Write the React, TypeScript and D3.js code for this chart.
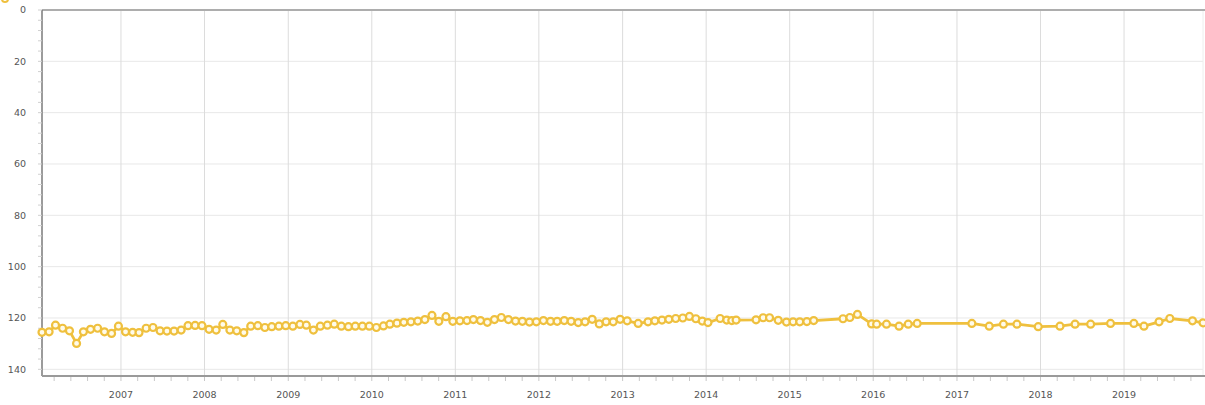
import React from "react";
import * as d3 from "d3";

// ---- DATA ----
const monthlyStart = "2006-01-21";
const monthlyValues: number[] = [
  125.6, 125.4, 122.8, 124.0, 125.0, 129.9, 125.4, 124.4, 124.0, 125.4, 126.0, 123.2,
  125.4, 125.6, 125.7, 124.0, 123.7, 125.0, 125.1, 125.1, 124.7, 123.0, 122.9, 123.0,
  124.4, 124.7, 122.5, 124.7, 125.0, 125.7, 123.2, 123.0, 123.7, 123.4, 123.2, 123.0,
  123.2, 122.5, 122.8, 124.7, 123.2, 122.8, 122.4, 123.2, 123.4, 123.2, 123.2, 123.2,
  123.7, 123.1, 122.4, 122.0, 121.7, 121.5, 121.2, 120.6, 119.0, 121.3, 119.5, 121.3,
  121.1, 121.0, 120.6, 121.0, 121.7, 120.6, 119.8, 120.6, 121.2, 121.3, 121.6, 121.5,
  121.0, 121.3, 121.3, 121.0, 121.3, 121.8, 121.5, 120.5, 122.3, 121.5, 121.5, 120.5,
  121.1,
];
const laterDates: string[] = [
  "2013-03-10", "2013-04-22", "2013-05-22", "2013-06-22", "2013-07-22", "2013-08-21",
  "2013-09-21", "2013-10-20", "2013-11-17", "2013-12-15", "2014-01-09", "2014-03-03",
  "2014-04-01", "2014-04-23", "2014-05-12", "2014-08-07", "2014-09-07", "2014-10-05",
  "2014-11-12", "2014-12-18", "2015-01-16", "2015-02-14", "2015-03-17", "2015-04-16",
  "2015-08-22", "2015-09-21", "2015-10-24", "2015-12-25", "2016-01-16", "2016-02-28",
  "2016-04-23", "2016-06-02", "2016-07-11", "2017-03-07", "2017-05-22", "2017-07-23",
  "2017-09-20", "2017-12-22", "2018-03-27", "2018-06-01", "2018-08-08", "2018-11-03",
  "2019-02-13", "2019-03-29", "2019-06-03", "2019-07-20", "2019-10-27", "2019-12-12",
];
const laterValues: number[] = [
  122.1, 121.5, 121.1, 120.8, 120.5, 120.2,
  120.0, 119.4, 120.3, 121.2, 121.8, 120.2,
  120.8, 121.0, 120.8, 120.7, 119.9, 119.9,
  120.9, 121.6, 121.5, 121.5, 121.4, 121.0,
  120.3, 119.8, 118.6, 122.3, 122.4, 122.4,
  123.2, 122.4, 122.1, 122.1, 123.2, 122.4,
  122.4, 123.4, 123.2, 122.4, 122.4, 122.1,
  122.1, 123.2, 121.5, 120.2, 121.1, 121.9,
];
const yTicks: number[] = [0, 20, 40, 60, 80, 100, 120, 140];
const xYears: number[] = [2007, 2008, 2009, 2010, 2011, 2012, 2013, 2014, 2015, 2016, 2017, 2018, 2019];

type Pt = { date: Date; value: number };

const parse = d3.timeParse("%Y-%m-%d");
const start = parse(monthlyStart) as Date;
const points: Pt[] = [
  ...monthlyValues.map((v, i) => ({ date: d3.timeMonth.offset(start, i), value: v })),
  ...laterDates.map((d, i) => ({ date: parse(d) as Date, value: laterValues[i] })),
];

const W = 1205;
const H = 405;
const left = 42;
const right = 1203;
const top = 10;
const bottom = 376;

const COLOR = "#EFC03E";
const FONT = "DejaVu Sans, Verdana, sans-serif";

export default function App() {
  const x = d3
    .scaleTime()
    .domain([start, parse("2019-12-12") as Date])
    .range([left, right]);
  const y = d3.scaleLinear().domain([0, 142.6]).range([top, bottom]);

  const line = d3
    .line<Pt>()
    .x((d) => x(d.date))
    .y((d) => y(d.value))
    .curve(d3.curveLinear);

  // minor x ticks every 0.2 year
  const xMinor: Date[] = [];
  for (let yr = 2006; yr <= 2020; yr++) {
    for (let k = 0; k < 5; k++) {
      const d = new Date(yr, 0, 1);
      const dd = new Date(d.getTime() + (k / 5) * 365.25 * 86400000);
      const px = x(dd);
      if (px >= left && px <= right) xMinor.push(dd);
    }
  }
  const yMinor = d3.range(0, 143, 4);

  return (
    <svg
      width={W}
      height={H}
      style={{ position: "absolute", left: 0, top: 0, background: "#fff" }}
    >
      {/* legend (mostly cut off at the top) */}
      <circle cx={5} cy={-1} r={3} fill="#fff" stroke={COLOR} strokeWidth={2} />

      {/* horizontal grid */}
      {yTicks.map((t) => (
        <line key={"hg" + t} x1={left} x2={right} y1={y(t)} y2={y(t)} stroke="#e8e8e8" strokeWidth={1} />
      ))}
      {/* vertical grid */}
      {xYears.map((yr) => {
        const px = x(new Date(yr, 0, 1));
        return <line key={"vg" + yr} x1={px} x2={px} y1={top} y2={bottom} stroke="#dcdcdc" strokeWidth={1} />;
      })}
      <line x1={right} x2={right} y1={top} y2={bottom} stroke="#eeeeee" strokeWidth={1} />

      {/* top border */}
      <line x1={left} x2={W} y1={top} y2={top} stroke="#adadad" strokeWidth={2} />
      {/* y axis */}
      <line x1={left} x2={left} y1={top} y2={bottom} stroke="#7a7a7a" strokeWidth={1.5} />
      {yMinor.map((t) => (
        <line key={"ym" + t} x1={left - 4} x2={left} y1={y(t)} y2={y(t)} stroke="#d0d0d0" strokeWidth={1} />
      ))}
      {yTicks.map((t) => (
        <text
          key={"yl" + t}
          x={26}
          y={y(t)}
          dy="0.35em"
          textAnchor="end"
          fontFamily={FONT}
          fontSize={9.5}
          fill="#555"
        >
          {t}
        </text>
      ))}

      {/* x axis */}
      <line x1={left} x2={W} y1={bottom} y2={bottom} stroke="#9a9a9a" strokeWidth={2} />
      {xMinor.map((d, i) => (
        <line key={"xm" + i} x1={x(d)} x2={x(d)} y1={bottom + 1} y2={bottom + 5} stroke="#c8c8c8" strokeWidth={1} />
      ))}
      {xYears.map((yr) => (
        <text
          key={"xl" + yr}
          x={x(new Date(yr, 0, 1))}
          y={398}
          textAnchor="middle"
          fontFamily={FONT}
          fontSize={9.5}
          fill="#555"
        >
          {yr}
        </text>
      ))}

      {/* series */}
      <path d={line(points) || ""} fill="none" stroke={COLOR} strokeWidth={2.8} strokeLinejoin="round" />
      {points.map((p, i) => (
        <circle
          key={"p" + i}
          cx={x(p.date)}
          cy={y(p.value)}
          r={3.5}
          fill="#fffbea"
          stroke={COLOR}
          strokeWidth={2.2}
        />
      ))}
    </svg>
  );
}
